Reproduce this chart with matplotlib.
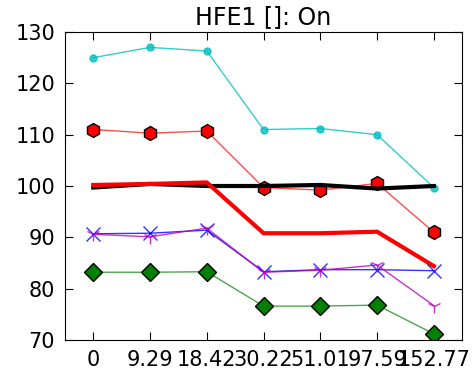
import matplotlib
matplotlib.use("Agg")
import matplotlib.pyplot as plt

# x categories (positions are evenly spaced, labels are the raw distances)
x_labels = ["0", "9.29", "18.42", "30.22", "51.01", "97.59", "152.77"]

cyan_vals = [125.0, 127.0, 126.3, 111.0, 111.2, 110.0, 99.7]
red_hex_vals = [111.0, 110.3, 110.7, 99.7, 99.2, 100.5, 91.0]
black_vals = [99.7, 100.4, 100.0, 100.0, 100.2, 99.5, 100.0]
red_thick_vals = [100.2, 100.4, 100.7, 90.8, 90.8, 91.1, 84.4]
blue_vals = [90.7, 90.8, 91.4, 83.3, 83.7, 83.7, 83.5]
magenta_vals = [90.6, 90.1, 91.8, 83.2, 83.6, 84.6, 76.7]
green_vals = [83.2, 83.2, 83.3, 76.6, 76.6, 76.8, 71.2]

xs = list(range(len(x_labels)))

fig = plt.figure(figsize=(4.77, 3.72), dpi=100)
ax = fig.add_axes([0.136, 0.086, 0.833, 0.828])

ax.plot(xs, cyan_vals, color="c", marker="o", markersize=5, markeredgecolor="c",
        linewidth=1.0, alpha=0.8)
ax.plot(xs, red_hex_vals, color="r", linewidth=1.0, alpha=0.7)
ax.plot(xs, red_hex_vals, linestyle="none", marker="h", markersize=10,
        markerfacecolor="r", markeredgecolor="k")
ax.plot(xs, black_vals, color="k", linewidth=3)
ax.plot(xs, red_thick_vals, color="r", linewidth=3)
ax.plot(xs, blue_vals, color="b", marker="x", markersize=10, markeredgewidth=1,
        linewidth=1.0, alpha=0.8)
ax.plot(xs, magenta_vals, color="m", marker="1", markersize=10, markeredgewidth=1,
        linewidth=1.0, alpha=0.8)
ax.plot(xs, green_vals, color="g", linewidth=1.0, alpha=0.7)
ax.plot(xs, green_vals, linestyle="none", marker="D", markersize=9,
        markerfacecolor="g", markeredgecolor="k")

ax.set_xlim(-0.5, len(xs) - 0.5)
ax.set_ylim(70, 130)
ax.set_yticks(range(70, 131, 10))
ax.set_xticks(xs)
ax.set_xticklabels(x_labels)
ax.tick_params(direction="in", top=True, right=True, length=6, labelsize=15, pad=7)
ax.set_title("HFE1 []: On", fontsize=17)

fig.savefig("out.png", dpi=100)
